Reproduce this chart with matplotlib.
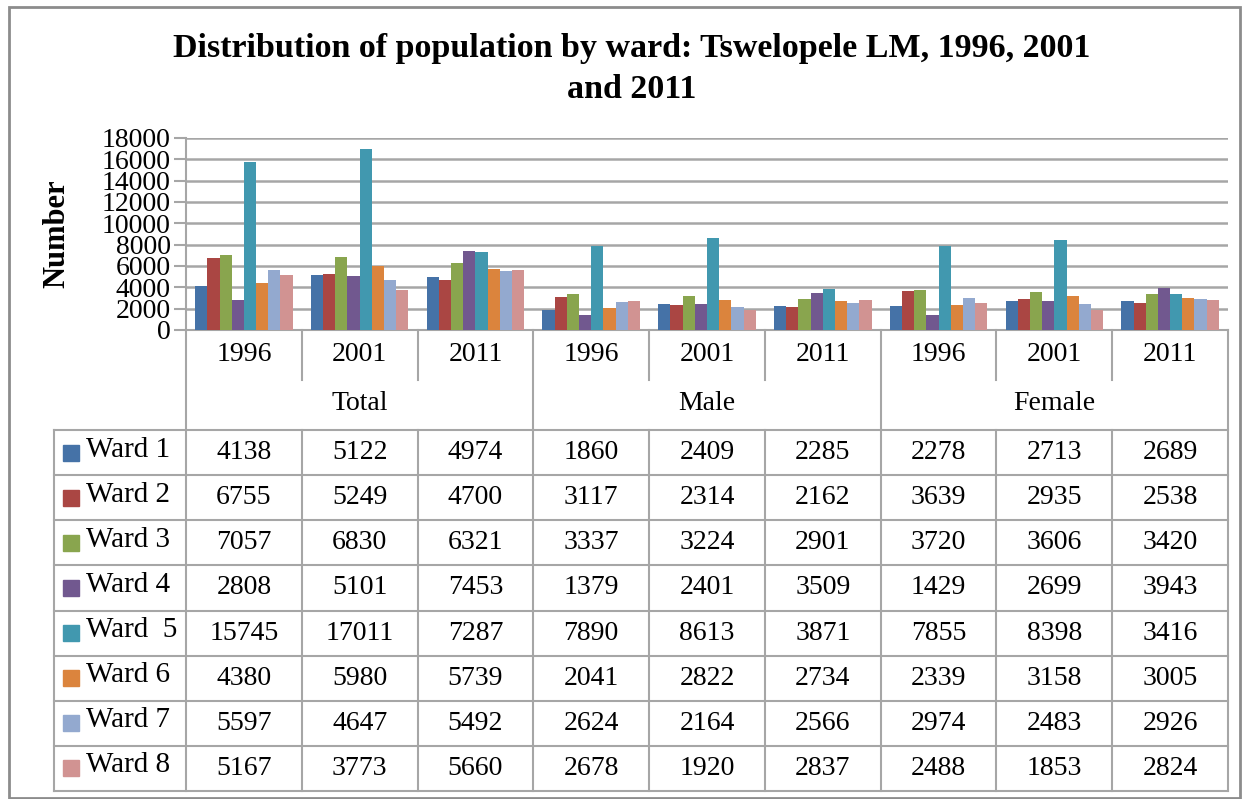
import numpy as np
import matplotlib
matplotlib.use("Agg")
import matplotlib.pyplot as plt
from matplotlib.patches import Rectangle

plt.rcParams['font.family'] = ['Liberation Serif', 'DejaVu Serif']

# data
groups = ["Total", "Male", "Female"]
years = ["1996", "2001", "2011"]
wards = ["Ward 1", "Ward 2", "Ward 3", "Ward 4", "Ward  5", "Ward 6", "Ward 7", "Ward 8"]
ward1 = [4138, 5122, 4974, 1860, 2409, 2285, 2278, 2713, 2689]
ward2 = [6755, 5249, 4700, 3117, 2314, 2162, 3639, 2935, 2538]
ward3 = [7057, 6830, 6321, 3337, 3224, 2901, 3720, 3606, 3420]
ward4 = [2808, 5101, 7453, 1379, 2401, 3509, 1429, 2699, 3943]
ward5 = [15745, 17011, 7287, 7890, 8613, 3871, 7855, 8398, 3416]
ward6 = [4380, 5980, 5739, 2041, 2822, 2734, 2339, 3158, 3005]
ward7 = [5597, 4647, 5492, 2624, 2164, 2566, 2974, 2483, 2926]
ward8 = [5167, 3773, 5660, 2678, 1920, 2837, 2488, 1853, 2824]
colors = ['#4572A7', '#AA4643', '#89A54E', '#71588F', '#4198AF', '#DB843D', '#93A9CF', '#D19392']

series = [ward1, ward2, ward3, ward4, ward5, ward6, ward7, ward8]
W, H = 1252, 799
fig = plt.figure(figsize=(W / 100, H / 100), dpi=100)

def px_axes(l, t, r, b):
    return fig.add_axes([l / W, 1 - b / H, (r - l) / W, (b - t) / H])

gridc = '#A6A6A6'
fs = 20

# outer border
fig.patches.append(Rectangle((9 / W, 1 / H), 1231 / W, 791 / H, transform=fig.transFigure,
                             fill=False, edgecolor='#8C8C8C', lw=2))

fig.text(632 / W, 1 - 69 / H, "Distribution of population by ward: Tswelopele LM, 1996, 2001\nand 2011",
         ha='center', va='center', fontsize=24.5, fontweight='bold', linespacing=1.38)

# bar chart
ax = px_axes(186, 138, 1228, 330)
ncat = len(ward1)
bw = 1 / 9.5
x = np.arange(ncat) + 0.5
for j, vals in enumerate(series):
    ax.bar(x + (j - 3.5) * bw, vals, width=bw, color=colors[j], zorder=3)
ax.set_xlim(0, ncat)
ax.set_ylim(0, 18000)
ax.set_yticks(np.arange(0, 18001, 2000))
ax.tick_params(axis='y', length=9, color=gridc, width=1.5, labelsize=fs, pad=2)
ax.set_xticks([])
ax.yaxis.grid(True, color=gridc, lw=1.8, zorder=0)
for s in ['top', 'right']:
    ax.spines[s].set_visible(False)
for s in ['left', 'bottom']:
    ax.spines[s].set_color(gridc)
    ax.spines[s].set_linewidth(1.5)
ax.set_ylabel("Number", fontsize=22, fontweight='bold', labelpad=22)

# data table
cw = (1228 - 186) / ncat
lc = (186 - 54) / cw
tb = px_axes(54, 330, 1228, 791)
tb.set_xlim(-lc, ncat)
tb.set_ylim(461, 0)
tb.axis('off')
hh = 100
rh = (461 - hh) / len(series)
lk = dict(color=gridc, lw=1.5, clip_on=False)
tb.plot([-lc, ncat], [hh, hh], **lk)
for k in range(len(series)):
    tb.plot([-lc, ncat], [hh + (k + 1) * rh] * 2, **lk)
tb.plot([-lc, -lc], [hh, 461], **lk)
for c in range(ncat + 1):
    if c % 3 == 0:
        tb.plot([c, c], [0, 461], **lk)
    else:
        tb.plot([c, c], [0, 50], **lk)
        tb.plot([c, c], [hh, 461], **lk)
for c in range(ncat):
    tb.text(c + 0.5, 25, years[c % 3], ha='center', va='center', fontsize=fs)
for g, name in enumerate(groups):
    tb.text(g * 3 + 1.5, 74, name, ha='center', va='center', fontsize=fs)
for k, vals in enumerate(series):
    yc = hh + (k + 0.5) * rh
    tb.plot(-lc + 17 / cw, yc, marker='s', ms=11, color=colors[k], clip_on=False)
    tb.text(-lc + 32 / cw, yc - 3, wards[k], ha='left', va='center', fontsize=21)
    for c in range(ncat):
        tb.text(c + 0.5, yc, str(vals[c]), ha='center', va='center', fontsize=fs)

fig.savefig("out.png", dpi=100)
